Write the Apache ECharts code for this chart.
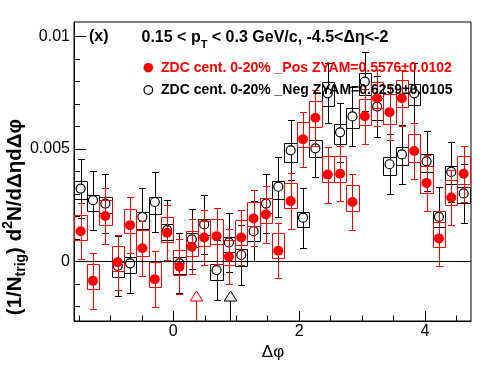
<!DOCTYPE html>
<html><head><meta charset="utf-8">
<script src="https://cdn.jsdelivr.net/npm/echarts@6/dist/echarts.min.js"></script>
<style>html,body{margin:0;padding:0;background:#fff}#c{width:496px;height:374px}</style>
</head><body><div id="c"></div>
<script>
// ---- data ----
const dphi = [-1.4726,-1.2763,-1.0799,-0.8836,-0.6872,-0.4909,-0.2945,-0.0982,0.0982,0.2945,0.4909,0.6872,0.8836,1.0799,1.2763,1.4726,1.6690,1.8653,2.0617,2.2580,2.4544,2.6507,2.8471,3.0434,3.2398,3.4361,3.6325,3.8288,4.0252,4.2215,4.4179,4.6142];
const binWidth = 0.19635;

const posVal = [0.00134,-0.00087,0.00202,-0.00004,0.00161,0.00058,-0.00080,0.00127,-0.00024,0.00065,0.00106,0.00112,0.00020,0.00106,0.00191,0.00209,0.00047,0.00268,0.00543,0.00639,0.00386,0.00390,0.00264,0.00646,0.00726,0.00664,0.00726,0.00491,0.00349,0.00102,0.00284,0.00390];
const posStat = [0.00124,0.00124,0.00124,0.00122,0.00124,0.00122,0.00124,0.00123,0.00123,0.00122,0.00124,0.00124,0.00123,0.00124,0.00125,0.00126,0.00123,0.00124,0.00122,0.00125,0.00125,0.00123,0.00126,0.00123,0.00124,0.00122,0.00124,0.00124,0.00124,0.00124,0.00124,0.00124];
const posSysUp = [0.00074,0.00074,0.00072,0.00074,0.00074,0.00081,0.00075,0.00071,0.00074,0.00071,0.00074,0.00075,0.00074,0.00077,0.00074,0.00075,0.00077,0.00079,0.00077,0.00075,0.00081,0.00077,0.00074,0.00075,0.00071,0.00079,0.00079,0.00077,0.00075,0.00074,0.00080,0.00077];
const posSysDn = [0.00037,0.00037,0.00041,0.00037,0.00037,0.00034,0.00036,0.00040,0.00038,0.00040,0.00037,0.00036,0.00037,0.00034,0.00033,0.00040,0.00034,0.00032,0.00034,0.00042,0.00033,0.00037,0.00040,0.00038,0.00043,0.00051,0.00040,0.00049,0.00044,0.00037,0.00034,0.00044];

const negVal = [0.00324,0.00272,0.00257,-0.00020,-0.00009,0.00198,0.00264,0.00139,-0.00009,0.00098,0.00164,-0.00039,0.00084,0.00028,0.00134,0.00257,0.00332,0.00494,0.00194,0.00503,0.00748,0.00574,0.00645,0.00800,0.00689,0.00432,0.00476,0.00748,0.00445,0.00198,0.00398,0.00302];
const negStat = [0.00133,0.00132,0.00133,0.00133,0.00133,0.00130,0.00132,0.00133,0.00133,0.00133,0.00133,0.00133,0.00133,0.00133,0.00133,0.00133,0.00134,0.00133,0.00133,0.00127,0.00133,0.00133,0.00132,0.00133,0.00137,0.00134,0.00133,0.00134,0.00133,0.00133,0.00132,0.00133];
const negSysUp = [0.00032,0.00025,0.00031,0.00015,0.00027,0.00022,0.00022,0.00027,0.00027,0.00027,0.00024,0.00025,0.00025,0.00027,0.00024,0.00027,0.00027,0.00034,0.00026,0.00036,0.00049,0.00037,0.00036,0.00040,0.00039,0.00032,0.00031,0.00040,0.00034,0.00027,0.00027,0.00029];
const negSysDn = [0.00048,0.00049,0.00044,0.00049,0.00044,0.00052,0.00052,0.00044,0.00048,0.00033,0.00048,0.00044,0.00042,0.00048,0.00044,0.00044,0.00055,0.00052,0.00041,0.00039,0.00055,0.00052,0.00053,0.00058,0.00062,0.00049,0.00049,0.00053,0.00048,0.00047,0.00052,0.00044];

const zyamX = [0.356, 0.897];            // ZYAM minimum positions: Pos, Neg
const zyamColor = ['#ff0000', '#000000'];

const xMajor = [0, 2, 4];
const xMinor = [-1.5, -1, -0.5, 0.5, 1, 1.5, 2.5, 3, 3.5, 4.5];
const yMajor = [0, 0.005, 0.01];
const yMinor = [-0.002, -0.001, 0.001, 0.002, 0.003, 0.004, 0.006, 0.007, 0.008, 0.009];

const X_MIN = -1.578, X_MAX = 4.731, Y_MIN = -0.002658, Y_MAX = 0.010654;
const FONT = 'Liberation Sans, Arial, Helvetica, sans-serif';

// ---- rendering helpers ----
function px(v){ return Math.round(v) + 0.5; }
function makeBoxErr(color, r) {
  return function (params, api) {
    const x = api.value(0), v = api.value(1), e = api.value(2), su = api.value(3), sd = api.value(4);
    const c = api.coord([x, v]);
    const L = px(api.coord([x - binWidth / 2, v])[0]);
    const R = px(api.coord([x + binWidth / 2, v])[0]);
    const T = px(api.coord([x, v + su])[1]);
    const B = px(api.coord([x, v - sd])[1]);
    const eT = px(api.coord([x, v + e])[1]);
    const eB = px(api.coord([x, v - e])[1]);
    const cx = px(c[0]), cy = c[1];
    const st = { stroke: color, lineWidth: 1, fill: null };
    return {
      type: 'group',
      children: [
        { type: 'rect', shape: { x: L, y: T, width: R - L, height: B - T }, style: { stroke: color, fill: null, lineWidth: 1 } },
        { type: 'line', shape: { x1: cx, y1: eT, x2: cx, y2: cy - r }, style: st },
        { type: 'line', shape: { x1: cx, y1: cy + r, x2: cx, y2: eB }, style: st },
        { type: 'line', shape: { x1: cx - 3.5, y1: eT, x2: cx + 3.5, y2: eT }, style: st },
        { type: 'line', shape: { x1: cx - 3.5, y1: eB, x2: cx + 3.5, y2: eB }, style: st }
      ]
    };
  };
}
function rows(vals, stat, up, dn) {
  return vals.map((v, i) => [dphi[i], v, stat[i], up[i], dn[i]]);
}

const chart = echarts.init(document.getElementById('c'), null, { renderer: 'canvas', width: 496, height: 374 });

const axisCommon = { type: 'value', splitLine: { show: false } };

const option = {
  animation: false,
  backgroundColor: '#ffffff',
  grid: { left: 74, right: 25, top: 22, bottom: 53, show: true, borderColor: '#000', borderWidth: 1, backgroundColor: 'transparent' },
  xAxis: [
    Object.assign({}, axisCommon, {
      min: X_MIN, max: X_MAX, position: 'bottom',
      axisLine: { show: true, onZero: false, lineStyle: { color: '#000', width: 1 } },
      axisTick: { show: true, inside: true, length: 10, customValues: xMajor, lineStyle: { color: '#000', width: 1 } },
      axisLabel: { show: true, customValues: xMajor, color: '#000', fontSize: 16, fontFamily: FONT, margin: 3, formatter: v => String(v) }
    }),
    Object.assign({}, axisCommon, {
      min: X_MIN, max: X_MAX, position: 'bottom', offset: 0,
      axisLine: { show: false, onZero: false },
      axisTick: { show: true, inside: true, length: 5.5, customValues: xMinor, lineStyle: { color: '#000', width: 1 } },
      axisLabel: { show: false }
    })
  ],
  yAxis: [
    Object.assign({}, axisCommon, {
      min: Y_MIN, max: Y_MAX, position: 'left',
      axisLine: { show: true, onZero: false, lineStyle: { color: '#000', width: 1 } },
      axisTick: { show: true, inside: true, length: 12, customValues: yMajor, lineStyle: { color: '#000', width: 1 } },
      axisLabel: { show: true, customValues: yMajor, color: '#000', fontSize: 16, fontFamily: FONT, margin: 4, formatter: v => (v === 0 ? '0' : String(v)) }
    }),
    Object.assign({}, axisCommon, {
      min: Y_MIN, max: Y_MAX, position: 'left', offset: 0,
      axisLine: { show: false, onZero: false },
      axisTick: { show: true, inside: true, length: 6, customValues: yMinor, lineStyle: { color: '#000', width: 1 } },
      axisLabel: { show: false }
    })
  ],
  series: [
    {
      type: 'custom', name: 'negBox', z: 2, xAxisIndex: 0, yAxisIndex: 0,
      data: rows(negVal, negStat, negSysUp, negSysDn), renderItem: makeBoxErr('#000000', 4.5),
      markLine: { silent: true, symbol: 'none', label: { show: false }, lineStyle: { color: '#000', width: 1, type: 'solid' }, data: [{ yAxis: 0 }] }
    },
    {
      type: 'scatter', name: 'neg', z: 3, symbol: 'circle', symbolSize: 9,
      data: negVal.map((v, i) => [dphi[i], v]),
      itemStyle: { color: 'transparent', borderColor: '#000', borderWidth: 1.2, opacity: 1 }
    },
    {
      type: 'custom', name: 'posBox', z: 4,
      data: rows(posVal, posStat, posSysUp, posSysDn), renderItem: makeBoxErr('#ff0000', 5)
    },
    {
      type: 'scatter', name: 'pos', z: 5, symbol: 'circle', symbolSize: 10,
      data: posVal.map((v, i) => [dphi[i], v]),
      itemStyle: { color: '#ff0000', opacity: 1 }
    },
    {
      type: 'custom', name: 'zyam', z: 6,
      data: zyamX.map((x, i) => [x, i]),
      renderItem: function (params, api) {
        const x = api.value(0), idx = api.value(1);
        const bottom = params.coordSys.y + params.coordSys.height;
        const cx = px(api.coord([x, 0])[0]);
        const col = zyamColor[idx];
        return {
          type: 'group',
          children: [
            { type: 'line', shape: { x1: cx, y1: bottom - 20, x2: cx, y2: bottom }, style: { stroke: col, lineWidth: 1 } },
            { type: 'polygon', shape: { points: [[cx, bottom - 30], [cx - 6.3, bottom - 20], [cx + 6.3, bottom - 20]] }, style: { stroke: col, fill: '#eeeeee', lineWidth: 1 } }
          ]
        };
      }
    }
  ],
  graphic: [
    { type: 'text', z: 100, x: 89, y: 37, style: { text: '(x)', fill: '#000', font: 'bold 16px ' + FONT, verticalAlign: 'middle', align: 'left' } },
    { type: 'text', z: 100, x: 141.5, y: 38, style: {
        text: '{b|0.15 < p}{s|T}{b| < 0.3 GeV/c, -4.5<Δη<-2}', verticalAlign: 'middle', align: 'left',
        rich: {
          b: { fontSize: 16, fontWeight: 'bold', fontFamily: FONT, fill: '#000', lineHeight: 24, verticalAlign: 'middle' },
          s: { fontSize: 11, fontWeight: 'bold', fontFamily: FONT, fill: '#000', lineHeight: 10, verticalAlign: 'bottom' }
        } } },
    { type: 'circle', z: 100, shape: { cx: 148.3, cy: 67.7, r: 4.8 }, style: { fill: '#ff0000', stroke: null } },
    { type: 'text', z: 100, x: 161, y: 68, style: { text: 'ZDC cent. 0-20% _Pos ZYAM=0.5576±0.0102', fill: '#ff0000', font: 'bold 14px ' + FONT, verticalAlign: 'middle', align: 'left' } },
    { type: 'circle', z: 100, shape: { cx: 148.3, cy: 90, r: 4.3 }, style: { fill: null, stroke: '#000', lineWidth: 1.2 } },
    { type: 'text', z: 100, x: 161, y: 90.5, style: { text: 'ZDC cent. 0-20% _Neg ZYAM=0.6259±0.0105', fill: '#000', font: 'bold 14px ' + FONT, verticalAlign: 'middle', align: 'left' } },
    { type: 'text', z: 100, x: 273, y: 352, style: { text: 'Δφ', fill: '#000', font: '17px ' + FONT, verticalAlign: 'middle', align: 'center' } },
    { type: 'text', z: 100, x: 15, y: 217, rotation: Math.PI / 2, style: {
        text: '{m|(1/N}{s|trig}{m|) d}{p|2}{m|N/dΔηdΔφ}', align: 'center', verticalAlign: 'middle',
        rich: {
          m: { fontSize: 20.5, fontWeight: 'bold', fontFamily: FONT, fill: '#000', lineHeight: 27, verticalAlign: 'middle' },
          s: { fontSize: 14, fontWeight: 'bold', fontFamily: FONT, fill: '#000', lineHeight: 11, verticalAlign: 'bottom' },
          p: { fontSize: 14, fontWeight: 'bold', fontFamily: FONT, fill: '#000', lineHeight: 11, verticalAlign: 'top' }
        } } }
  ]
};
chart.setOption(option);
</script>
</body></html>
